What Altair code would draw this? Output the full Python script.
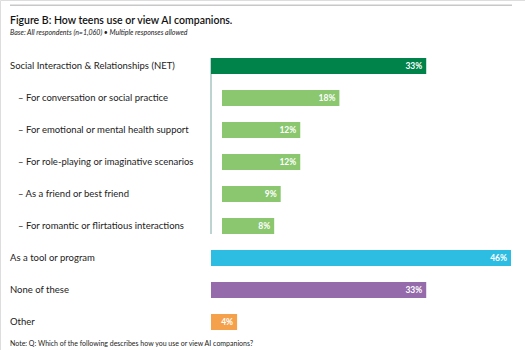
import altair as alt
import pandas as pd

categories = [
    "Social Interaction & Relationships (NET)",
    "For conversation or social practice",
    "For emotional or mental health support",
    "For role-playing or imaginative scenarios",
    "As a friend or best friend",
    "For romantic or flirtatious interactions",
    "As a tool or program",
    "None of these",
    "Other",
]
values = [33, 18, 12, 12, 9, 8, 46, 33, 4]
groups = ["net", "sub", "sub", "sub", "sub", "sub", "tool", "none", "other"]
group_colors = {"net": "#00834a", "sub": "#8ac76f", "tool": "#2dbde2", "none": "#956bab", "other": "#f5a14b"}

df = pd.DataFrame({"cat": categories, "value": values, "group": groups})
df["zero"] = 0
df["label"] = [("– " + c) if g == "sub" else c for c, g in zip(categories, groups)]
df["pct"] = [f"{v}%" for v in values]

FONT = "Lato"
yscale = alt.Scale(domain=categories, range=[50, 338], paddingInner=0.5, paddingOuter=0.25)
xscale = alt.Scale(domain=[0, 46], range=[211, 511], nice=False, zero=True)
color = alt.Color("group:N", scale=alt.Scale(domain=list(group_colors), range=list(group_colors.values())), legend=None)

base = alt.Chart(df)
Y = alt.Y("cat:N", scale=yscale, axis=None, sort=categories)
X = alt.X("value:Q", scale=xscale, axis=None)

main_bars = base.transform_filter("datum.group != 'sub'").mark_bar().encode(
    x=X, x2="zero:Q", y=Y, color=color)
sub_bars = base.transform_filter("datum.group == 'sub'").mark_bar(xOffset=11, x2Offset=11).encode(
    x=X, x2="zero:Q", y=Y, color=color)

main_vals = base.transform_filter("datum.group != 'sub'").mark_text(
    align="right", baseline="middle", dx=-4, color="white", font=FONT, fontWeight="bold", fontSize=8.5
).encode(x=X, y=Y, text="pct:N")
sub_vals = base.transform_filter("datum.group == 'sub'").mark_text(
    align="right", baseline="middle", dx=7, color="white", font=FONT, fontWeight="bold", fontSize=8.5
).encode(x=X, y=Y, text="pct:N")

main_labels = base.transform_filter("datum.group != 'sub'").mark_text(
    align="left", baseline="middle", font=FONT, fontSize=9.5, color="#222222"
).encode(x=alt.value(10), y=Y, text="label:N")
sub_labels = base.transform_filter("datum.group == 'sub'").mark_text(
    align="left", baseline="middle", font=FONT, fontSize=9.5, color="#222222"
).encode(x=alt.value(18), y=Y, text="label:N")

span = pd.DataFrame({"a": [categories[0]], "b": [categories[5]], "zero": [0]})
vline = alt.Chart(span).mark_rule(color="#7aa9a0", strokeWidth=1).encode(
    x=alt.X("zero:Q", scale=xscale, axis=None),
    y=alt.Y("a:N", scale=yscale, axis=None, bandPosition=0),
    y2=alt.Y2("b:N", bandPosition=1),
)

topline = alt.Chart(pd.DataFrame({"k": [0]})).mark_rect(color="#c8c8c8").encode(
    x=alt.value(10), x2=alt.value(512), y=alt.value(4.5), y2=alt.value(6))

texts = pd.DataFrame({
    "t": ["Figure B: How teens use or view AI companions.",
          "Base: All respondents (n=1,060) • Multiple responses allowed",
          "Note: Q: Which of the following describes how you use or view AI companions?"],
})
title = alt.Chart(texts.iloc[[0]]).mark_text(align="left", baseline="middle", font=FONT, fontSize=10.5,
                                             fontWeight=600, color="#111111").encode(
    x=alt.value(10), y=alt.value(21), text="t:N")
subtitle = alt.Chart(texts.iloc[[1]]).mark_text(align="left", baseline="middle", font=FONT, fontSize=7,
                                                fontStyle="italic", color="#222222").encode(
    x=alt.value(10), y=alt.value(33), text="t:N")
note = alt.Chart(texts.iloc[[2]]).mark_text(align="left", baseline="middle", font=FONT, fontSize=7,
                                            color="#222222").encode(
    x=alt.value(10), y=alt.value(344), text="t:N")

chart = alt.layer(topline, vline, main_bars, sub_bars, main_vals, sub_vals, main_labels, sub_labels,
                  title, subtitle, note).properties(
    width=525, height=350, autosize=alt.AutoSizeParams(type="none"), padding=0
).configure_view(stroke=None).configure(background="white")

chart.save("out.html", embed_options={"renderer": "svg", "actions": False})
